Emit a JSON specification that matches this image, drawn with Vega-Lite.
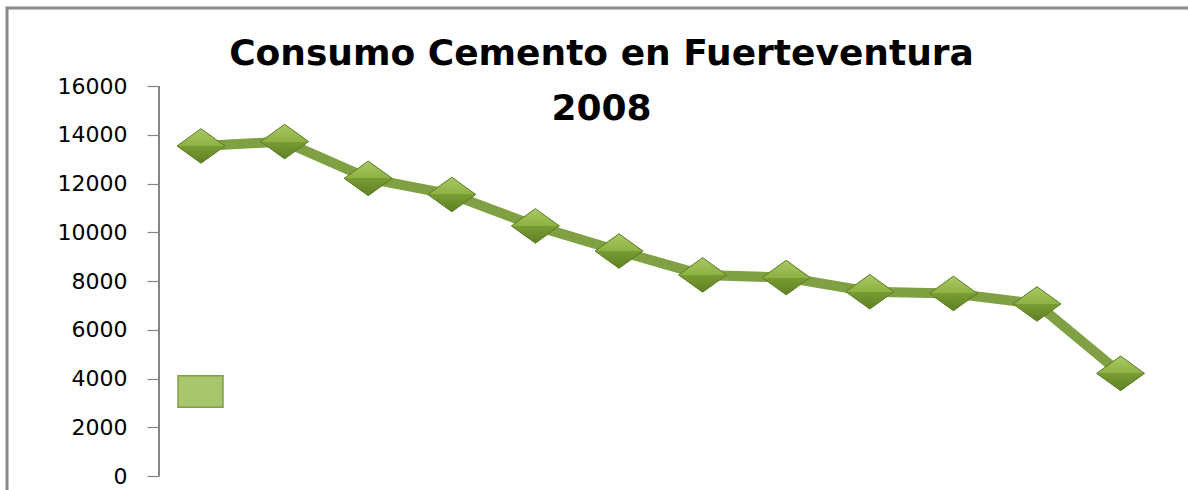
{
  "$schema": "https://vega.github.io/schema/vega-lite/v6.json",
  "width": 1189,
  "height": 490,
  "autosize": {"type": "none"},
  "padding": {"left": 7, "top": 8, "right": -8, "bottom": -8},
  "background": "white",
  "title": {
    "text": ["Consumo Cemento en Fuerteventura", "2008"],
    "font": "DejaVu Sans",
    "fontSize": 36,
    "fontWeight": "bold",
    "color": "#000000",
    "anchor": "middle",
    "frame": "group",
    "baseline": "top",
    "offset": -120,
    "lineHeight": 55
  },
  "config": {"view": {"stroke": "#8a8a8a", "strokeWidth": 3}},
  "data": {
    "values": [
      {"mes": 1, "consumo": 13540, "serie": ""},
      {"mes": 2, "consumo": 13720, "serie": ""},
      {"mes": 3, "consumo": 12210, "serie": ""},
      {"mes": 4, "consumo": 11550, "serie": ""},
      {"mes": 5, "consumo": 10260, "serie": ""},
      {"mes": 6, "consumo": 9230, "serie": ""},
      {"mes": 7, "consumo": 8250, "serie": ""},
      {"mes": 8, "consumo": 8140, "serie": ""},
      {"mes": 9, "consumo": 7560, "serie": ""},
      {"mes": 10, "consumo": 7490, "serie": ""},
      {"mes": 11, "consumo": 7060, "serie": ""},
      {"mes": 12, "consumo": 4210, "serie": ""}
    ]
  },
  "layer": [
    {
      "mark": {"type": "rule", "color": "#868686", "strokeWidth": 1.5},
      "encoding": {
        "x": {"datum": 0.5, "type": "quantitative", "scale": {"domain": [-1.3206, 12.902], "nice": false, "zero": false}, "axis": null},
        "y": {"datum": 0, "type": "quantitative", "scale": {"domain": [-902.56, 19200], "nice": false, "zero": false},
          "axis": {"values": [0, 2000, 4000, 6000, 8000, 10000, 12000, 14000, 16000], "offset": -152, "domain": false, "grid": false, "ticks": true, "tickSize": 12, "tickColor": "#868686", "tickWidth": 1.2, "labelPadding": 20, "labelFont": "DejaVu Sans", "labelFontSize": 22, "labelColor": "#000000", "title": null, "format": "d"}},
        "y2": {"datum": 16000}
      }
    },
    {
      "mark": {"type": "line", "strokeWidth": 10, "strokeJoin": "miter"},
      "encoding": {
        "x": {"field": "mes", "type": "quantitative", "scale": {"domain": [-1.3206, 12.902], "nice": false, "zero": false}, "axis": null},
        "y": {"field": "consumo", "type": "quantitative", "scale": {"domain": [-902.56, 19200], "nice": false, "zero": false},
          "axis": {"values": [0, 2000, 4000, 6000, 8000, 10000, 12000, 14000, 16000], "offset": -152, "domain": false, "grid": false, "ticks": true, "tickSize": 12, "tickColor": "#868686", "tickWidth": 1.2, "labelPadding": 20, "labelFont": "DejaVu Sans", "labelFontSize": 22, "labelColor": "#000000", "title": null, "format": "d"}},
        "color": {
          "field": "serie",
          "type": "nominal",
          "scale": {"range": ["#7fa043"]},
          "legend": {
            "orient": "none",
            "legendX": 170,
            "legendY": 360,
            "title": null,
            "labelExpr": "''",
            "symbolType": "M-1,-0.7H1V0.7H-1Z",
            "symbolSize": 2025,
            "padding": 0,
            "symbolStrokeWidth": 1.5,
            "symbolFillColor": "#a9c66f",
            "symbolStrokeColor": "#6f8f35",
            "symbolOpacity": 1,
            "encode": {"symbols": {"update": {"fill": {"value": "#a9c66f"}, "stroke": {"value": "#6f8f35"}, "strokeWidth": {"value": 1.5}, "opacity": {"value": 1}}}}
          }
        }
      }
    },
    {
      "mark": {
        "type": "point",
        "shape": "M-1,0L0,-0.72L1,0L0,0.72Z",
        "size": 2304,
        "filled": true,
        "opacity": 1,
        "fill": {"gradient": "linear", "x1": 0, "y1": 0, "x2": 0, "y2": 1, "stops": [{"offset": 0, "color": "#a9c965"}, {"offset": 0.5, "color": "#8db142"}, {"offset": 0.5, "color": "#799d33"}, {"offset": 1, "color": "#5f8024"}]},
        "stroke": "#5b7a22",
        "strokeWidth": 1
      },
      "encoding": {
        "x": {"field": "mes", "type": "quantitative", "scale": {"domain": [-1.3206, 12.902], "nice": false, "zero": false}, "axis": null},
        "y": {"field": "consumo", "type": "quantitative", "scale": {"domain": [-902.56, 19200], "nice": false, "zero": false},
          "axis": {"values": [0, 2000, 4000, 6000, 8000, 10000, 12000, 14000, 16000], "offset": -152, "domain": false, "grid": false, "ticks": true, "tickSize": 12, "tickColor": "#868686", "tickWidth": 1.2, "labelPadding": 20, "labelFont": "DejaVu Sans", "labelFontSize": 22, "labelColor": "#000000", "title": null, "format": "d"}}
      }
    }
  ]
}
